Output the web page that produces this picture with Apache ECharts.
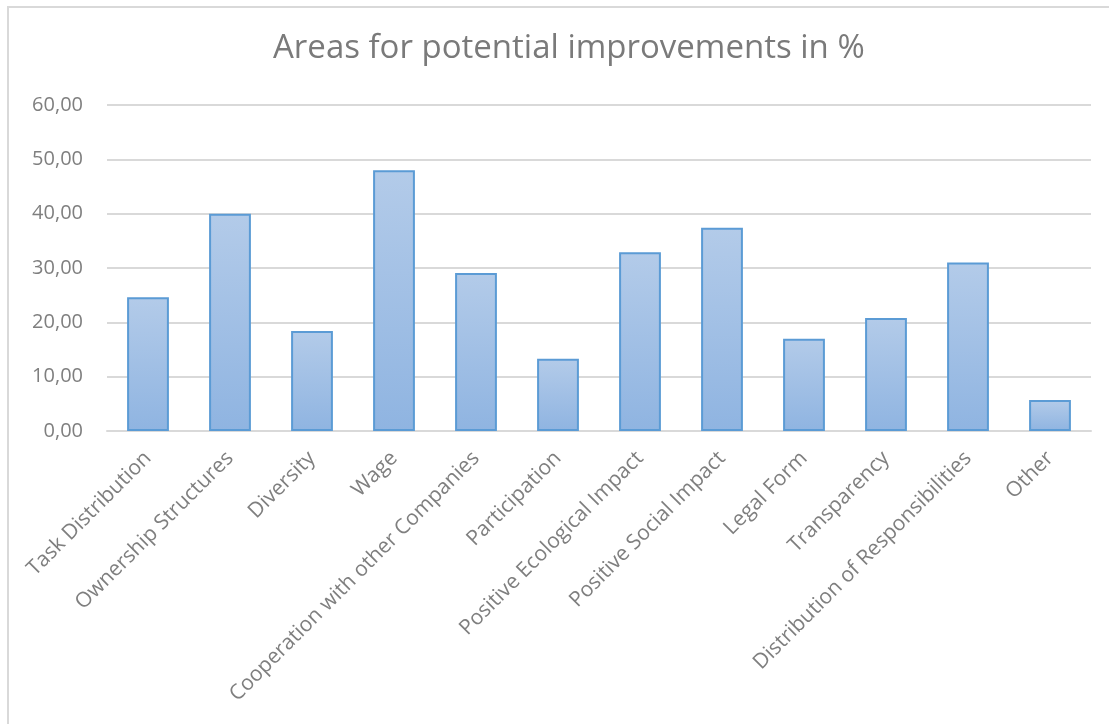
<!DOCTYPE html>
<html>
<head>
<meta charset="utf-8">
<script src="https://cdn.jsdelivr.net/npm/echarts@6/dist/echarts.min.js"></script>
<style>
html,body{margin:0;padding:0;background:#fff;}
#chart{width:1109px;height:724px;}
</style>
</head>
<body>
<div id="chart"></div>
<script>
const titleText = 'Areas for potential improvements in %';
const categories = ['Task Distribution','Ownership Structures','Diversity','Wage','Cooperation with other Companies','Participation','Positive Ecological Impact','Positive Social Impact','Legal Form','Transparency','Distribution of Responsibilities','Other'];
const values = [24.6, 40.0, 18.4, 48.0, 29.1, 13.3, 32.9, 37.4, 17.0, 20.8, 31.0, 5.7];
const yTicks = [0, 10, 20, 30, 40, 50, 60];

const chart = echarts.init(document.getElementById('chart'), null, {renderer:'canvas'});
chart.setOption({
  backgroundColor:'#ffffff',
  animation:false,
  graphic:[{
    type:'rect', left:7, top:6, z:-1, silent:true,
    shape:{x:0,y:0,width:1200,height:800},
    style:{fill:'#ffffff', stroke:'#d9d9d9', lineWidth:2}
  }],
  title:{
    text:titleText, left:268, top:27,
    textStyle:{fontFamily:'Open Sans', fontSize:33, fontWeight:'normal', color:'#7a7a7a'}
  },
  grid:{left:107, right:18, top:105, bottom:293, containLabel:false},
  xAxis:{
    type:'category', data:categories,
    axisLine:{show:true, lineStyle:{color:'#d9d9d9', width:2}},
    axisTick:{show:false},
    axisLabel:{rotate:45, interval:0, margin:24, fontFamily:'Open Sans', fontSize:21, color:'#7f7f7f'}
  },
  yAxis:{
    type:'value', min:yTicks[0], max:yTicks[yTicks.length-1], interval:10,
    axisLine:{show:false}, axisTick:{show:false},
    splitLine:{lineStyle:{color:'#d9d9d9', width:2}},
    axisLabel:{margin:24, fontFamily:'Open Sans', fontSize:20, color:'#7f7f7f',
      formatter:v => v.toFixed(2).replace('.', ',')}
  },
  series:[{
    type:'bar', data:values, barWidth:'51%',
    itemStyle:{
      color:new echarts.graphic.LinearGradient(0,0,0,1,[{offset:0,color:'#b3cbe9'},{offset:1,color:'#8fb4e1'}]),
      borderColor:'#5b9bd5', borderWidth:2
    }
  }]
});
</script>
</body>
</html>
